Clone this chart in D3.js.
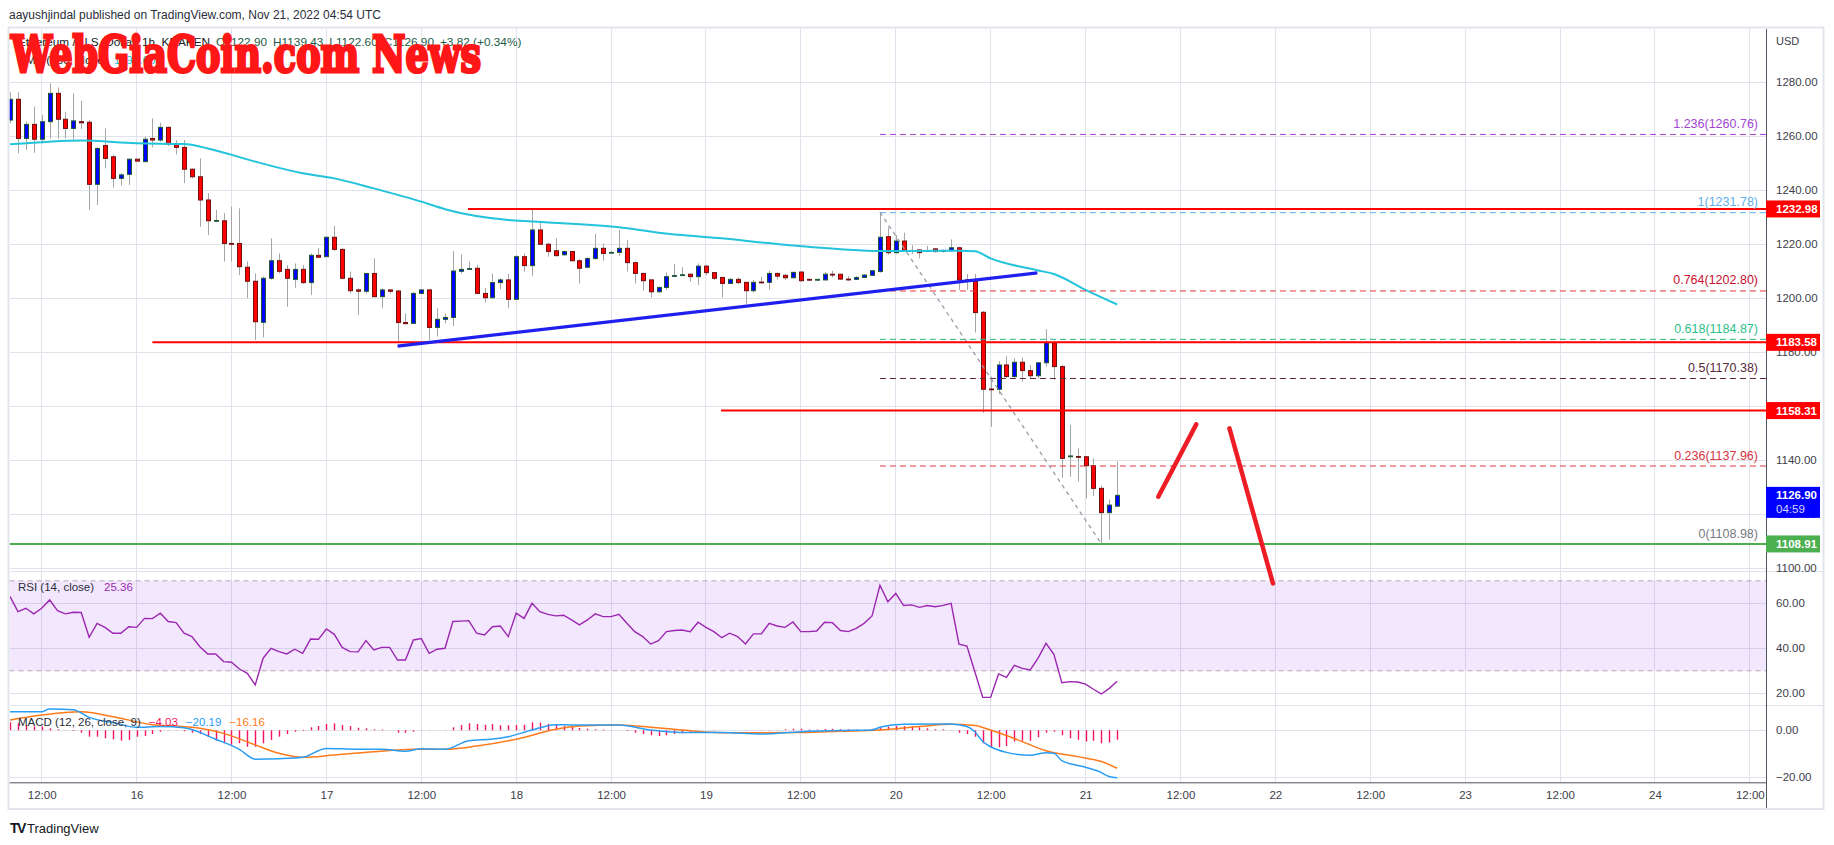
<!DOCTYPE html>
<html><head><meta charset="utf-8">
<script src="https://cdnjs.cloudflare.com/ajax/libs/d3/7.8.5/d3.min.js"></script>
<style>html,body{margin:0;padding:0;background:#fff;overflow:hidden}svg{display:block;font-family:"Liberation Sans",Arial,sans-serif}</style>
</head><body><svg id="c" width="1834" height="845"></svg>
<script>
// ---------------- DATA ----------------
const firstCandle = Date.UTC(2022, 10, 15, 8); // hourly candles from Nov 15 08:00 UTC
const openP = [1265.9,1273.6,1259.1,1264.3,1258.8,1265.3,1275.8,1266.2,1262.8,1265.3,1265.1,1242.1,1256.5,1252.3,1244.3,1245.8,1251.4,1250.5,1259.1,1258.5,1263.2,1257.0,1255.8,1247.7,1244.9,1236.3,1228.6,1228.6,1220.2,1220.2,1211.4,1206.2,1191.0,1207.3,1213.8,1210.6,1206.9,1210.6,1205.7,1215.8,1215.3,1222.5,1218.0,1207.3,1203.0,1202.5,1209.1,1200.5,1203.0,1202.6,1190.9,1190.6,1201.7,1203.0,1189.1,1192.1,1192.8,1209.9,1210.6,1211.0,1201.7,1200.1,1205.7,1206.7,1199.5,1215.3,1212.0,1225.2,1219.9,1217.5,1216.0,1217.2,1213.8,1211.4,1214.6,1218.4,1216.8,1216.9,1218.4,1213.1,1209.1,1206.7,1202.3,1203.9,1208.0,1208.3,1208.8,1207.9,1211.8,1209.4,1207.6,1205.4,1206.9,1205.8,1202.7,1205.9,1205.8,1209.1,1208.4,1207.5,1209.6,1206.9,1206.7,1206.7,1208.8,1208.8,1207.0,1206.9,1207.6,1208.4,1209.8,1222.7,1216.8,1221.1,1217.4,1217.8,1217.4,1218.2,1217.4,1217.5,1218.6,1206.7,1206.3,1194.7,1166.3,1166.2,1175.2,1170.9,1176.2,1173.1,1171.2,1176.0,1183.4,1174.6,1141.2,1141.3,1141.2,1137.9,1129.5,1120.5,1122.9];
const highP = [1276.2,1276.2,1265.3,1270.9,1267.8,1279.5,1278.0,1269.0,1275.8,1273.0,1265.9,1255.8,1262.8,1253.0,1246.2,1251.7,1251.7,1259.8,1266.5,1264.9,1263.5,1258.5,1258.5,1248.0,1251.7,1238.8,1232.6,1231.4,1233.8,1233.2,1213.5,1209.1,1207.9,1222.1,1216.5,1212.2,1212.8,1212.2,1216.5,1218.4,1222.7,1226.7,1218.4,1209.8,1203.6,1209.1,1214.7,1203.6,1203.0,1203.0,1194.3,1202.3,1203.2,1203.2,1196.2,1194.3,1217.4,1216.2,1213.5,1212.2,1203.8,1209.1,1207.3,1208.9,1215.9,1216.5,1232.6,1227.9,1220.5,1222.1,1217.5,1217.5,1214.3,1215.1,1223.7,1220.2,1217.2,1225.2,1221.5,1213.5,1209.4,1206.9,1204.2,1209.4,1212.6,1211.4,1209.1,1212.8,1212.2,1209.7,1207.9,1207.3,1207.6,1206.0,1206.7,1207.9,1210.1,1209.4,1208.8,1209.7,1210.0,1207.1,1207.1,1209.7,1210.1,1208.9,1208.1,1208.1,1208.9,1210.4,1231.78,1226.4,1223.3,1224.2,1219.6,1218.0,1219.3,1218.4,1218.0,1221.7,1219.0,1208.9,1208.9,1195.2,1170.9,1176.6,1178.5,1177.7,1178.0,1175.2,1176.2,1188.4,1184.2,1175.2,1153.0,1144.3,1141.5,1140.6,1130.5,1125.4,1139.43];
const lowP = [1264.7,1253.6,1254.8,1253.8,1257.3,1259.1,1259.1,1259.1,1258.8,1262.6,1232.6,1234.4,1248.0,1240.9,1241.6,1241.9,1250.5,1250.5,1255.8,1257.9,1256.3,1253.2,1242.5,1244.3,1226.4,1223.3,1228.5,1213.5,1213.5,1208.5,1199.9,1184.4,1185.4,1206.7,1209.1,1196.8,1203.8,1205.2,1201.1,1214.7,1215.3,1217.5,1206.9,1201.7,1193.7,1201.7,1200.2,1196.2,1201.7,1183.8,1190.4,1190.4,1201.5,1184.4,1185.7,1190.6,1189.6,1209.1,1210.4,1201.5,1198.3,1199.9,1203.2,1196.2,1199.5,1209.8,1208.1,1219.6,1215.3,1215.3,1215.7,1213.5,1205.4,1211.0,1214.3,1213.8,1216.5,1215.6,1209.8,1205.4,1202.7,1200.2,1202.0,1203.0,1207.9,1208.3,1206.0,1204.8,1208.5,1206.7,1200.2,1205.2,1205.2,1197.8,1202.0,1205.4,1203.0,1206.9,1206.7,1207.3,1206.0,1206.4,1206.4,1206.4,1207.6,1206.7,1206.4,1206.7,1207.5,1208.1,1209.4,1216.0,1216.5,1217.2,1216.3,1214.7,1217.2,1216.8,1216.8,1217.2,1203.0,1203.0,1187.2,1157.5,1152.3,1164.4,1170.4,1170.5,1169.0,1170.2,1170.2,1174.5,1169.8,1133.4,1133.8,1132.0,1125.8,1126.7,1108.98,1110.5,1122.6];
const closeP = [1273.6,1259.1,1264.3,1258.8,1265.3,1275.8,1266.2,1262.8,1265.6,1264.9,1242.1,1255.4,1251.7,1244.3,1245.6,1251.4,1250.7,1258.8,1258.5,1263.2,1257.0,1255.8,1247.7,1244.9,1236.3,1228.6,1228.7,1220.2,1219.9,1211.6,1206.2,1191.2,1207.3,1213.8,1209.9,1207.3,1210.6,1205.7,1215.8,1215.1,1222.5,1218.0,1207.3,1202.7,1202.5,1209.1,1200.5,1203.0,1202.5,1190.9,1190.5,1201.7,1203.0,1189.1,1192.1,1192.8,1210.0,1210.6,1210.9,1201.7,1200.1,1205.7,1206.7,1199.5,1215.3,1212.0,1225.2,1219.9,1217.2,1215.7,1217.2,1213.8,1211.0,1214.6,1218.4,1216.5,1216.9,1218.4,1213.1,1209.1,1206.4,1202.3,1203.9,1207.9,1208.3,1208.6,1207.9,1211.8,1209.4,1207.3,1205.4,1206.9,1205.7,1202.7,1205.8,1205.8,1209.1,1208.1,1207.5,1209.5,1206.4,1206.7,1206.9,1208.8,1208.7,1207.0,1206.7,1207.6,1208.5,1210.1,1222.5,1216.8,1221.1,1217.4,1217.6,1216.8,1217.6,1217.2,1217.6,1218.6,1206.7,1206.3,1194.6,1166.2,1166.2,1175.2,1170.9,1176.2,1173.1,1171.2,1176.0,1183.4,1174.6,1140.6,1141.5,1141.2,1137.9,1129.5,1120.5,1123.3,1126.9];

// moving average (sampled at candle index)
const maIdx = [0,5,9,16,22,25,31,37,41,46,52,55,63,66,77,82,90,97,105,110,120,122,124,130,132,136,140];
const maVals = [1256.9,1257.9,1258.3,1257.3,1257.0,1255.4,1250.5,1246.2,1244.3,1240.6,1235.7,1232.9,1228.9,1228.3,1226.2,1224.2,1222.1,1220.0,1218.1,1217.4,1217.5,1217.3,1214.7,1210.2,1208.9,1203.0,1197.6];

// RSI (14) per candle
const rsiVals = [63.0,56.3,57.8,55.3,57.8,61.5,56.7,55.3,56.0,55.9,44.9,51.1,49.3,46.7,46.7,49.6,49.3,53.3,53.2,55.6,51.9,51.4,46.7,45.2,40.7,37.5,37.5,34.1,33.8,30.8,28.9,23.7,35.6,40.0,38.5,37.5,39.6,37.8,44.1,44.0,48.6,46.2,40.4,38.5,38.4,43.4,39.3,40.4,40.4,34.8,34.8,43.7,44.3,37.8,39.6,40.0,51.9,52.1,52.3,46.7,45.9,49.6,49.9,45.2,55.6,53.3,60.0,56.3,55.1,54.4,54.7,52.6,50.4,52.6,55.3,54.1,54.1,55.1,51.1,47.4,45.2,41.9,43.4,47.4,47.9,48.1,47.4,51.6,49.3,47.4,44.7,46.7,45.2,41.9,46.4,46.4,51.1,49.9,49.3,51.7,47.4,47.4,47.7,51.6,51.4,47.9,47.4,48.9,51.1,54.4,68.0,60.7,64.4,59.0,59.3,58.2,59.0,58.5,59.1,60.0,41.8,41.0,29.6,18.2,18.2,28.6,27.1,32.4,31.1,30.4,35.6,42.2,37.3,24.7,25.2,25.0,24.1,21.8,19.7,22.2,25.4];

// MACD (12, 26, 9)
const macdIdx = [0,4,5,8,10,13,16,19,22,26,29,31,34,37,40,44,47,50,52,55,58,61,63,66,69,71,77,81,85,90,95,100,105,109,110,113,119,121,122,123,124,126,129,131,132,133,136,138,139,140];
const macdVals = [7.9,7.9,9.1,8.7,5.5,3.3,1.3,1.6,1.1,-3.8,-8.1,-12.3,-12.1,-11.5,-7.7,-8.1,-8.1,-8.9,-7.8,-8.1,-4.4,-3.7,-2.7,0.1,2.4,2.3,2.3,0.1,-0.9,-0.9,-1.6,-0.6,-0.1,0.1,1.3,2.6,2.7,1.6,-0.6,-4.8,-7.0,-9.4,-10.6,-9.5,-9.8,-12.9,-15.7,-18.0,-19.7,-20.19];
const signalIdx = [0,4,9,13,18,21,24,27,31,34,37,41,46,51,55,59,64,69,72,77,80,85,90,95,100,105,110,115,119,122,124,128,131,135,138,140];
const signalVals = [4.4,6.5,7.9,5.8,2.4,1.8,0.9,-1.3,-6.2,-9.8,-11.5,-10.5,-9.1,-8.1,-8.1,-6.7,-3.8,0.4,1.8,2.3,1.6,0.1,-1.0,-1.0,-0.9,-0.4,0.1,1.6,2.6,2.0,0.1,-4.8,-8.7,-11.2,-13.3,-16.16];
const histVals = [3.4,3.0,2.3,1.6,1.6,0.9,0.4,0.1,-0.3,-1.0,-2.7,-2.7,-3.4,-3.8,-4.4,-4.1,-2.7,-2.4,-1.6,-0.6,-0.1,0.1,-0.4,-1.0,-1.6,-2.7,-4.4,-5.5,-6.2,-5.5,-7.0,-7.0,-5.5,-4.1,-2.7,-1.6,-0.6,-0.3,1.3,1.8,2.7,3.0,2.3,1.8,1.1,0.9,0.4,0.3,0,-1.0,-1.0,-0.6,0.1,-0.1,0,0.1,1.3,2.3,3.0,2.7,2.4,2.7,2.1,2.1,2.3,2.4,3.4,3.3,2.8,2.3,1.8,1.6,1.0,0.7,0.4,0.3,0.1,0,-0.3,-1.0,-1.6,-2.1,-2.4,-2.1,-1.6,-1.3,-0.6,-0.1,0,0.1,0,0,0,-0.1,0,0.1,0.1,0.1,0.4,0.7,0.7,0.3,0.3,0.6,0.7,0.4,0.4,0.3,0.3,0.7,1.3,1.6,1.8,1.8,1.6,1.3,0.9,0.4,0.4,0.1,-1.0,-1.6,-2.7,-5.5,-7.2,-7.2,-6.7,-4.8,-4.4,-4.4,-3.0,-1.0,-0.6,-2.1,-3.4,-4.0,-4.8,-4.4,-5.5,-5.2,-4.03];

// drawings
const resistLevels = [1232.98, 1183.58, 1158.31];
const resistFrom = [57.9, 18.0, 89.9];            // candle index where each line starts
const supportLevel = 1108.91;
const fibRatios = ["1.236", "1", "0.764", "0.618", "0.5", "0.236", "0"];
const fibPrices = [1260.76, 1231.78, 1202.80, 1184.87, 1170.38, 1137.96, 1108.98];
const fibFrom = 110, fibTo = 138;                  // swing high / swing low candles
const trendPts = [[49.0, 1182.2], [129.9, 1209.3]];
const forecastA = [[145.2, 1126.4], [150.0, 1153.2]];
const forecastB = [[154.2, 1151.7], [159.7, 1094.3]];

const priceTicks = [1100,1120,1140,1160,1180,1200,1220,1240,1260,1280];
const rsiTicks = [20,40,60];
const macdTicks = [-20,0];
const lastPrice = 1126.90, countdown = "04:59";

// ---------------- LAYOUT ----------------
const svg = d3.select("#c");
const PL = 9.5, PR = 1766;
const mainTop = 29, mainBot = 571.7, rsiBot = 705.3, macdBot = 782.3;

const x = d3.scaleUtc()
  .domain([new Date(Date.UTC(2022,10,15,12)), new Date(Date.UTC(2022,10,24,12))])
  .range([41.7, 1749.8]);
const tOf = i => new Date(firstCandle + i * 3600e3);
const xi = i => x(tOf(i));
const y = d3.scaleLinear().domain([1100,1280]).range([568,82]);
const yR = d3.scaleLinear().domain([20,60]).range([693.3,603.3]);
const yM = d3.scaleLinear().domain([-20,0]).range([777.3,730.3]);

const defs = svg.append("defs");
defs.append("clipPath").attr("id","mainClip").append("rect").attr("x",PL).attr("y",mainTop).attr("width",PR-PL).attr("height",mainBot-mainTop);
defs.append("clipPath").attr("id","rsiClip").append("rect").attr("x",PL).attr("y",mainBot).attr("width",PR-PL).attr("height",rsiBot-mainBot);
defs.append("clipPath").attr("id","macdClip").append("rect").attr("x",PL).attr("y",rsiBot).attr("width",PR-PL).attr("height",macdBot-rsiBot);

svg.append("rect").attr("width",1834).attr("height",845).attr("fill","#fff");

// grid
const grid = svg.append("g").attr("stroke","#e0e3eb").attr("stroke-width",1).attr("shape-rendering","crispEdges");
const timeTicks = x.ticks(d3.utcHour.every(12));
grid.selectAll(".vg").data(timeTicks).join("line")
  .attr("x1",d=>x(d)).attr("x2",d=>x(d)).attr("y1",mainTop).attr("y2",macdBot);
grid.selectAll(".hg").data(priceTicks).join("line")
  .attr("x1",PL).attr("x2",PR).attr("y1",d=>y(d)).attr("y2",d=>y(d));
grid.selectAll(".rg").data(rsiTicks).join("line")
  .attr("x1",PL).attr("x2",PR).attr("y1",d=>yR(d)).attr("y2",d=>yR(d));
grid.selectAll(".mg").data(macdTicks).join("line")
  .attr("x1",PL).attr("x2",PR).attr("y1",d=>yM(d)).attr("y2",d=>yM(d));
grid.selectAll(".sep").data([mainBot, rsiBot]).join("line")
  .attr("x1",PL).attr("x2",1823).attr("y1",d=>d).attr("y2",d=>d);

// RSI band
svg.append("rect").attr("x",PL).attr("width",PR-PL).attr("y",yR(70)).attr("height",yR(30)-yR(70))
  .attr("fill","rgba(150,60,240,0.12)");
svg.append("g").selectAll("line").data([70,30]).join("line")
  .attr("x1",PL).attr("x2",PR).attr("y1",d=>yR(d)).attr("y2",d=>yR(d))
  .attr("stroke","#b3a9bd").attr("stroke-dasharray","5,4").attr("stroke-width",1);

// ---------------- MAIN PANE ----------------
const main = svg.append("g").attr("clip-path","url(#mainClip)");
const candles = d3.range(openP.length).map(i => ({i, o:openP[i], h:highP[i], l:lowP[i], c:closeP[i]}));
main.append("g").selectAll("line").data(candles).join("line")
  .attr("x1",d=>Math.round(xi(d.i))+0.5).attr("x2",d=>Math.round(xi(d.i))+0.5)
  .attr("y1",d=>y(d.h)).attr("y2",d=>y(d.l)).attr("stroke","#a6a6a6").attr("stroke-width",1);
main.append("g").selectAll("rect").data(candles).join("rect")
  .attr("x",d=>Math.round(xi(d.i))-1.5).attr("width",4)
  .attr("y",d=>y(Math.max(d.o,d.c)))
  .attr("height",d=>Math.max(0.8, Math.abs(y(d.o)-y(d.c))))
  .attr("fill",d=>d.c>=d.o?"#0000ff":"#ff0000")
  .attr("stroke",d=>d.c>=d.o?"#1e5a32":"#6e1010").attr("stroke-width",1);

// moving average
main.append("path")
  .datum(maIdx.map((k,j)=>[k,maVals[j]]))
  .attr("d", d3.line().x(d=>xi(d[0])).y(d=>y(d[1])).curve(d3.curveMonotoneX))
  .attr("fill","none").attr("stroke","#22c3db").attr("stroke-width",2);

// fib levels
const fibColors = ["#a63bd6","#5aaee8","#e8323c","#26b98a","#5a2339","#e0333d","#8a8d96"];
const fibLabelColors = ["#a346d4","#62b0ea","#c8102e","#2cc08a","#5a2a3c","#d63440","#777a83"];
main.append("g").selectAll("line").data(fibPrices).join("line")
  .attr("x1",xi(fibFrom)).attr("x2",PR).attr("y1",d=>y(d)+0.5).attr("y2",d=>y(d)+0.5)
  .attr("stroke",(d,j)=>fibColors[j]).attr("stroke-width",1).attr("stroke-dasharray","6,4");
main.append("line")
  .attr("x1",xi(fibFrom)).attr("y1",y(fibPrices[1])).attr("x2",xi(fibTo)).attr("y2",y(fibPrices[6]))
  .attr("stroke","#9a9ca3").attr("stroke-width",1.3).attr("stroke-dasharray","4,4");

// horizontal resistance/support
main.append("g").selectAll("line").data(resistLevels).join("line")
  .attr("x1",(d,j)=>xi(resistFrom[j])).attr("x2",PR).attr("y1",d=>y(d)).attr("y2",d=>y(d))
  .attr("stroke","#ff0000").attr("stroke-width",2);
main.append("line").attr("x1",PL).attr("x2",PR).attr("y1",y(supportLevel)).attr("y2",y(supportLevel))
  .attr("stroke","#4caf50").attr("stroke-width",2);

// trendline
main.append("line")
  .attr("x1",xi(trendPts[0][0])).attr("y1",y(trendPts[0][1]))
  .attr("x2",xi(trendPts[1][0])).attr("y2",y(trendPts[1][1]))
  .attr("stroke","#1f1fee").attr("stroke-width",3.2);

// fib labels
svg.append("g").attr("font-size",12.5).attr("text-anchor","end")
  .selectAll("text").data(fibPrices).join("text")
  .attr("x",1758).attr("y",d=>y(d)-6)
  .attr("fill",(d,j)=>fibLabelColors[j])
  .text((d,j)=>`${fibRatios[j]}(${d3.format(".2f")(d)})`);

// ---------------- RSI ----------------
const rsiG = svg.append("g").attr("clip-path","url(#rsiClip)");
rsiG.append("path").datum(rsiVals)
  .attr("d", d3.line().x((d,i)=>xi(i)).y(d=>yR(d)))
  .attr("fill","none").attr("stroke","#9c27b0").attr("stroke-width",1.4);

// ---------------- MACD ----------------
const macdG = svg.append("g").attr("clip-path","url(#macdClip)");
macdG.append("g").selectAll("line").data(histVals).join("line")
  .attr("x1",(d,i)=>Math.round(xi(i))+0.5).attr("x2",(d,i)=>Math.round(xi(i))+0.5)
  .attr("y1",yM(0)).attr("y2",d=>yM(d))
  .attr("stroke","#f5145f").attr("stroke-width",1.4);
macdG.append("path").datum(signalIdx.map((k,j)=>[k,signalVals[j]]))
  .attr("d", d3.line().x(d=>xi(d[0])).y(d=>yM(d[1])).curve(d3.curveMonotoneX))
  .attr("fill","none").attr("stroke","#ff7a1a").attr("stroke-width",1.5);
macdG.append("path").datum(macdIdx.map((k,j)=>[k,macdVals[j]]))
  .attr("d", d3.line().x(d=>xi(d[0])).y(d=>yM(d[1])).curve(d3.curveMonotoneX))
  .attr("fill","none").attr("stroke","#2a9df4").attr("stroke-width",1.5);

// ---------------- AXES ----------------
const axisCol = "#3d404a";
const yAxis = svg.append("g").attr("transform",`translate(${PR},0)`)
  .call(d3.axisRight(y).tickValues(priceTicks).tickFormat(d3.format(".2f")).tickSize(0).tickPadding(10));
const rAxis = svg.append("g").attr("transform",`translate(${PR},0)`)
  .call(d3.axisRight(yR).tickValues(rsiTicks).tickFormat(d3.format(".2f")).tickSize(0).tickPadding(10));
const mAxis = svg.append("g").attr("transform",`translate(${PR},0)`)
  .call(d3.axisRight(yM).tickValues(macdTicks).tickFormat(d3.format(".2f")).tickSize(0).tickPadding(10));
[yAxis,rAxis,mAxis].forEach(a=>{
  a.select(".domain").remove();
  a.selectAll("text").attr("font-size",11.5).attr("fill",axisCol).attr("font-family","Liberation Sans, Arial, sans-serif");
});
const fmtT = d => d.getUTCHours()===0 ? d3.utcFormat("%-d")(d) : d3.utcFormat("%H:%M")(d);
const xAxis = svg.append("g").attr("transform",`translate(0,${macdBot})`)
  .call(d3.axisBottom(x).ticks(d3.utcHour.every(12)).tickFormat(fmtT).tickSize(0).tickPadding(9));
xAxis.select(".domain").remove();
xAxis.selectAll("text").attr("font-size",11.5).attr("fill",axisCol).attr("font-family","Liberation Sans, Arial, sans-serif");

svg.append("line").attr("x1",PR+0.5).attr("x2",PR+0.5).attr("y1",mainTop).attr("y2",809).attr("stroke","#50535e");
svg.append("line").attr("x1",PL).attr("x2",PR).attr("y1",macdBot+0.5).attr("y2",macdBot+0.5).attr("stroke","#50535e");
svg.append("text").attr("x",1776).attr("y",41).attr("dy","0.35em").attr("font-size",11).attr("fill",axisCol).text("USD");

// price label boxes
const boxes = resistLevels.map(v=>({v,c:"#ff0000"})).concat([{v:supportLevel,c:"#4caf50"}]);
const bx = svg.append("g");
bx.selectAll("rect").data(boxes).join("rect")
  .attr("x",PR).attr("width",54).attr("y",d=>y(d.v)-8.5).attr("height",17).attr("fill",d=>d.c);
bx.selectAll("text").data(boxes).join("text")
  .attr("x",1776).attr("y",d=>y(d.v)).attr("dy","0.35em").attr("fill","#fff")
  .attr("font-size",11.5).attr("font-weight","bold").text(d=>d3.format(".2f")(d.v));
bx.append("rect").attr("x",PR).attr("width",54).attr("y",y(lastPrice)-8.5).attr("height",31).attr("fill","#0000ff");
bx.append("text").attr("x",1776).attr("y",y(lastPrice)).attr("dy","0.35em").attr("fill","#fff")
  .attr("font-size",11.5).attr("font-weight","bold").text(d3.format(".2f")(lastPrice));
bx.append("text").attr("x",1776).attr("y",y(lastPrice)+14).attr("dy","0.35em").attr("fill","#d8d8ff")
  .attr("font-size",11.5).text(countdown);

// outer frame
svg.append("rect").attr("x",8.5).attr("y",27.5).attr("width",1815).attr("height",781.5)
  .attr("fill","none").attr("stroke","#e3e5ec").attr("stroke-width",2);

// ---------------- TEXTS ----------------
svg.append("text").attr("x",9).attr("y",15).attr("dy","0.35em").attr("font-size",12).attr("fill","#2a2e39")
  .text("aayushjindal published on TradingView.com, Nov 21, 2022 04:54 UTC");

const leg = svg.append("text").attr("x",18).attr("y",42).attr("dy","0.35em").attr("font-size",11.8).attr("fill","#131722");
leg.append("tspan").text("Ethereum / U.S. Dollar, 1h, KRAKEN");
const ohlc = [["O",openP[140]],["H",highP[140]],["L",lowP[140]],["C",closeP[140]]];
ohlc.forEach(([k,v])=>{ leg.append("tspan").attr("dx",6).attr("fill","#1d5c45").text(k + d3.format(".2f")(v)); });
leg.append("tspan").attr("dx",6).attr("fill","#1d5c45").text("+3.82 (+0.34%)");
const leg2 = svg.append("text").attr("x",18).attr("y",60).attr("dy","0.35em").attr("font-size",11.8).attr("fill","#131722");
leg2.append("tspan").text("EMA (100, close)");
leg2.append("tspan").attr("dx",6).attr("fill","#22c3db").text(d3.format(".2f")(maVals[maVals.length-1]));

const rl = svg.append("text").attr("x",18).attr("y",587).attr("dy","0.35em").attr("font-size",11.5).attr("fill","#2a2e39");
rl.append("tspan").text("RSI (14, close)");
rl.append("tspan").attr("dx",10).attr("fill","#9c27b0").text(d3.format(".2f")(25.36));

const ml = svg.append("text").attr("x",18).attr("y",722).attr("dy","0.35em").attr("font-size",11.5).attr("fill","#2a2e39");
ml.append("tspan").text("MACD (12, 26, close, 9)");
ml.append("tspan").attr("dx",8).attr("fill","#f5145f").text(d3.format(".2f")(histVals[histVals.length-1]));
ml.append("tspan").attr("dx",8).attr("fill","#2a9df4").text(d3.format(".2f")(macdVals[macdVals.length-1]));
ml.append("tspan").attr("dx",8).attr("fill","#ff7a1a").text(d3.format(".2f")(signalVals[signalVals.length-1]));

// TradingView logo
svg.append("text").attr("x",10).attr("y",828).attr("dy","0.35em").attr("font-size",14).attr("font-weight",900)
  .attr("letter-spacing",-1.5).attr("fill","#131722").text("TV");
svg.append("text").attr("x",27).attr("y",828).attr("dy","0.35em").attr("font-size",13).attr("fill","#131722").text("TradingView");

// forecast strokes
const fl = d3.line().x(d=>xi(d[0])).y(d=>y(d[1]));
[forecastA, forecastB].forEach(seg=>{
  svg.append("path").attr("d",fl(seg)).attr("fill","none").attr("stroke","#ee1c25")
    .attr("stroke-width",4.5).attr("stroke-linecap","round");
});

// watermark (heavy slab look)
svg.append("text").attr("x",11).attr("y",71.5).attr("font-family","DejaVu Serif, serif")
  .attr("font-weight","bold").attr("font-size",50).attr("fill","#ff1616")
  .attr("stroke","#ff1616").attr("stroke-width",3.2).attr("stroke-linejoin","miter")
  .attr("paint-order","stroke")
  .attr("textLength",470).attr("lengthAdjust","spacingAndGlyphs").text("WebGiaCoin.com News");
</script></body></html>
